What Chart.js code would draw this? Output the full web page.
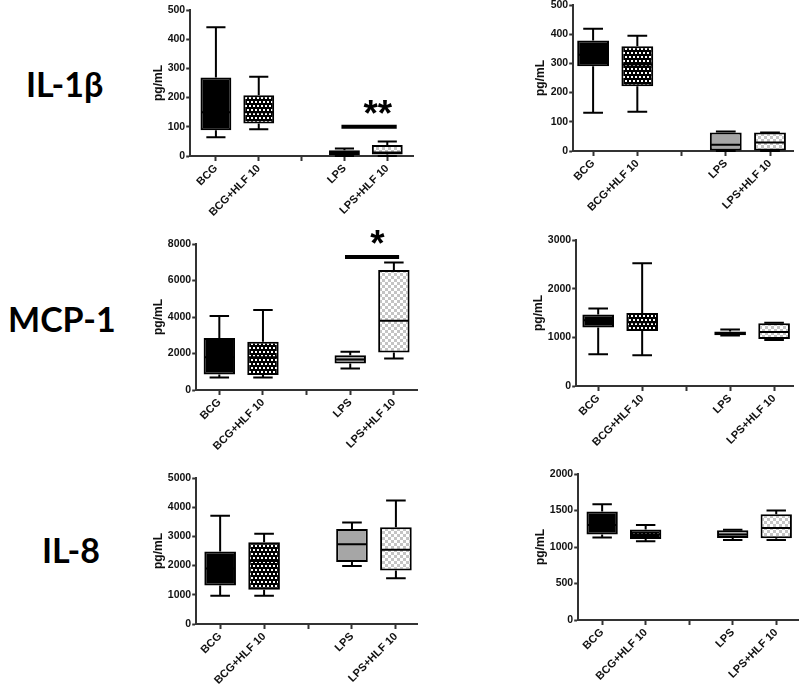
<!DOCTYPE html>
<html><head><meta charset="utf-8">
<script src="https://cdn.jsdelivr.net/npm/chart.js@4.4.0/dist/chart.umd.min.js"></script>
<style>
html,body{margin:0;padding:0;background:#fff;width:800px;height:688px;overflow:hidden}
body{position:relative}
canvas{position:absolute}
.row{position:absolute;font-family:Lato,'Open Sans',sans-serif;font-weight:bold;font-size:34px;color:#000;line-height:1;white-space:nowrap}
</style></head><body>
<script>
// ---------------- data ----------------
const categories = ['BCG', 'BCG+HLF 10', '', 'LPS', 'LPS+HLF 10'];
const boxPositions = [0, 1, 3, 4];
const rowLabels = ['IL-1β', 'MCP-1', 'IL-8'];
// five-number summaries: [min, q1, median, q3, max] for BCG, BCG+HLF 10, LPS, LPS+HLF 10
const il1bLeft  = [[64, 88, 150, 269, 441], [92, 111, 150, 208, 271], [0, 3, 13, 20, 26], [0, 5, 12, 38, 50]];
const il1bRight = [[131, 290, 330, 378, 419], [134, 222, 296, 359, 395], [0, 0, 21, 63, 67], [0, 0, 29, 63, 63]];
const mcp1Left  = [[680, 850, 1800, 2850, 4050], [680, 820, 1800, 2640, 4380], [1180, 1450, 1670, 1900, 2090], [1720, 2050, 3790, 6570, 6990]];
const mcp1Right = [[650, 1200, 1350, 1470, 1590], [630, 1130, 1310, 1500, 2520], [1040, 1045, 1080, 1120, 1160], [945, 965, 1110, 1290, 1300]];
const il8Left   = [[970, 1315, 1900, 2480, 3710], [970, 1170, 2160, 2800, 3090], [1990, 2120, 2735, 3250, 3480], [1570, 1830, 2540, 3310, 4230]];
const il8Right  = [[1130, 1170, 1300, 1485, 1585], [1080, 1110, 1175, 1240, 1300], [1095, 1125, 1170, 1230, 1235], [1095, 1120, 1260, 1450, 1500]];
const panelData = [il1bLeft, il1bRight, mcp1Left, mcp1Right, il8Left, il8Right];
const yMaxes = [500, 500, 8000, 3000, 5000, 2000];
const ySteps = [100, 100, 2000, 1000, 1000, 500];
const yTitle = 'pg/mL';
// significance markers
const sigPanel = [0, 2];
const sigFrom  = [2.93, 2.88];
const sigTo    = [4.22, 4.12];
const sigLevel = [100, 7286];
const sigText  = ['**', '*'];
const sigTextX = [3.78, 3.62];
const sigTextY = [167, 8400];

// ---------------- layout ----------------
const areas = [
  {l:190, r:413, t:9.5, b:155, xmin:-0.6, xmax:4.6, tOff:32},
  {l:573, r:793, t:5.3, b:151.7, xmin:-0.45, xmax:4.52, tOff:33},
  {l:196, r:417, t:244, b:389.7, xmin:-0.53, xmax:4.53, tOff:38},
  {l:576, r:793, t:240, b:386, xmin:-0.5, xmax:4.43, tOff:38},
  {l:196, r:417, t:478.3, b:624, xmin:-0.545, xmax:4.48, tOff:38},
  {l:578, r:798, t:474, b:620, xmin:-0.55, xmax:4.5, tOff:38}
];
const rowPos = [{left:26, base:97}, {left:8, base:332}, {left:42, base:563}];
const FONT = "'Liberation Sans', Arial, sans-serif";
const AX = '#333';

function makePattern(draw, w, h) {
  const c = document.createElement('canvas');
  c.width = w; c.height = h;
  const g = c.getContext('2d');
  draw(g);
  return c;
}
const darkTile = makePattern(g => {
  g.fillStyle = '#000'; g.fillRect(0, 0, 4, 8);
  g.fillStyle = '#fff'; g.fillRect(0, 1, 2, 2); g.fillRect(2, 5, 2, 2);
}, 4, 8);
const lightTile = makePattern(g => {
  g.fillStyle = '#fff'; g.fillRect(0, 0, 6, 6);
  g.fillStyle = '#c4c4c4'; g.fillRect(0, 0, 3, 3); g.fillRect(3, 3, 3, 3);
}, 6, 6);

const boxPlugin = {
  id: 'boxwhisk',
  afterDatasetsDraw(chart, args, opts) {
    const ctx = chart.ctx, y = chart.scales.y, x = chart.scales.x;
    const meta = chart.getDatasetMeta(0);
    const py = v => y.getPixelForValue(v);
    ctx.save();
    ctx.strokeStyle = '#000'; ctx.lineWidth = 2;
    meta.data.forEach((el, i) => {
      const [mn, q1, md, q3, mx] = opts.boxes[i];
      const cx = el.x, w = el.width, cw = w * 0.62;
      ctx.beginPath();
      ctx.moveTo(cx, py(q3)); ctx.lineTo(cx, py(mx));
      ctx.moveTo(cx - cw / 2, py(mx)); ctx.lineTo(cx + cw / 2, py(mx));
      ctx.moveTo(cx, py(q1)); ctx.lineTo(cx, py(mn));
      ctx.moveTo(cx - cw / 2, py(mn)); ctx.lineTo(cx + cw / 2, py(mn));
      ctx.moveTo(cx - w / 2 + 1, py(md)); ctx.lineTo(cx + w / 2 - 1, py(md));
      ctx.stroke();
    });
    opts.sig.forEach(s => {
      ctx.lineWidth = 4;
      ctx.beginPath();
      ctx.moveTo(x.getPixelForValue(s.from), py(s.level));
      ctx.lineTo(x.getPixelForValue(s.to), py(s.level));
      ctx.stroke();
      ctx.font = 'bold 100px ' + FONT;
      let m = ctx.measureText(s.text);
      const h = m.actualBoundingBoxAscent + m.actualBoundingBoxDescent;
      const size = 100 * 14 / h;
      ctx.font = 'bold ' + size.toFixed(1) + 'px ' + FONT;
      m = ctx.measureText(s.text);
      ctx.fillStyle = '#000';
      ctx.textAlign = 'center';
      ctx.textBaseline = 'alphabetic';
      const cy = py(s.ty);
      ctx.fillText(s.text, x.getPixelForValue(s.tx), cy + (m.actualBoundingBoxAscent - m.actualBoundingBoxDescent) / 2);
    });
    ctx.restore();
  }
};

const padT = 22, padR = 8, H = 80;

areas.forEach((a, p) => {
  const yW = a.tOff + 7.2;
  const cv = document.createElement('canvas');
  const W = a.r - a.l + yW + padR;
  const Ht = a.b - a.t + padT + H;
  cv.width = Math.round(W); cv.height = Math.round(Ht);
  cv.style.width = cv.width + 'px'; cv.style.height = cv.height + 'px';
  cv.style.left = (a.l - yW) + 'px';
  cv.style.top = (a.t - padT) + 'px';
  document.body.appendChild(cv);
  const fills = [
    '#000',
    cv.getContext('2d').createPattern(darkTile, 'repeat'),
    '#a6a6a6',
    cv.getContext('2d').createPattern(lightTile, 'repeat')
  ];
  const boxes = panelData[p];
  const sig = [];
  sigPanel.forEach((sp, k) => {
    if (sp === p) sig.push({from: sigFrom[k], to: sigTo[k], level: sigLevel[k], text: sigText[k], tx: sigTextX[k], ty: sigTextY[k]});
  });
  new Chart(cv, {
    type: 'bar',
    data: {
      datasets: [{
        data: boxPositions.map((xv, i) => ({x: xv, y: [boxes[i][1], boxes[i][3]]})),
        backgroundColor: fills,
        borderColor: '#000',
        borderWidth: 2,
        borderSkipped: false,
        categoryPercentage: 0.8,
        barPercentage: 0.9
      }]
    },
    options: {
      responsive: false,
      animation: false,
      devicePixelRatio: 1,
      layout: {padding: {top: padT, right: padR, left: 0, bottom: 0}},
      plugins: {legend: {display: false}, tooltip: {enabled: false}, boxwhisk: {boxes, sig}},
      scales: {
        x: {
          type: 'linear', min: a.xmin, max: a.xmax, offset: false,
          afterBuildTicks: s => { s.ticks = categories.map((c, i) => ({value: i})); },
          afterFit: s => { s.height = H; },
          grid: {offset: false, drawOnChartArea: false, drawTicks: true, tickLength: 5, tickWidth: 2, tickColor: AX},
          border: {display: true, color: AX, width: 2},
          ticks: {
            autoSkip: false, minRotation: 45, maxRotation: 45, padding: 1,
            color: '#111', font: {family: FONT, size: 11, weight: 'bold'},
            callback: v => categories[Math.round(v)] ?? ''
          }
        },
        y: {
          min: 0, max: yMaxes[p],
          afterFit: s => { s.width = yW; },
          grid: {drawOnChartArea: false, drawTicks: true, tickLength: 4, tickWidth: 2, tickColor: AX},
          border: {display: true, color: AX, width: 2},
          ticks: {stepSize: ySteps[p], padding: 1, color: '#111', font: {family: FONT, size: 10.5, weight: 'bold'},
                  callback: v => String(v)},
          title: {display: true, text: yTitle, color: '#111', padding: {top: 0, bottom: 0}, font: {family: FONT, size: 12, weight: 'bold'}}
        }
      }
    },
    plugins: [boxPlugin]
  });
});

rowLabels.forEach((t, i) => {
  const d = document.createElement('div');
  d.className = 'row';
  d.textContent = t;
  d.style.left = rowPos[i].left + 'px';
  d.style.top = (rowPos[i].base - 30) + 'px';
  document.body.appendChild(d);
});
</script>
</body></html>
